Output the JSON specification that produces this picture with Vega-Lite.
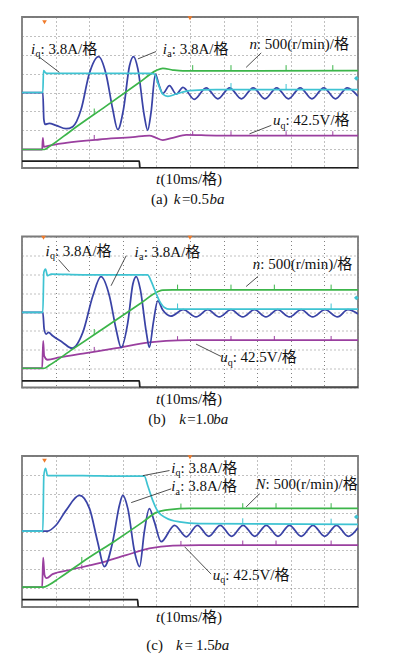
{
"$schema": "https://vega.github.io/schema/vega-lite/v6.json",
"background": "white",
"padding": {"left": 21, "top": 15, "right": 0, "bottom": 0},
"spacing": 68.5,
"bounds": "flush",
"config": {
  "view": {"stroke": "#7a7a7a", "strokeWidth": 1.8},
  "axis": {"labels": false, "ticks": false, "domain": false, "grid": true, "gridColor": "#808080", "gridDash": [1, 3], "gridWidth": 1},
  "axisX": {"tickCount": 10},
  "axisY": {"tickCount": 8}
},
"datasets": {
"tr": [
{"p":"a","s":"bk","x":0,"y":0.36},{"p":"a","s":"bk","x":3.49,"y":0.36},{"p":"a","s":"bk","x":3.51,"y":0},{"p":"a","s":"bk","x":10,"y":0},
{"p":"a","s":"pu","x":0,"y":0.98},{"p":"a","s":"pu","x":0.6,"y":0.98},{"p":"a","s":"pu","x":0.62,"y":1.6},{"p":"a","s":"pu","x":0.65,"y":1.12},{"p":"a","s":"pu","x":0.81,"y":1.19},{"p":"a","s":"pu","x":1.31,"y":1.33},{"p":"a","s":"pu","x":2.3,"y":1.51},{"p":"a","s":"pu","x":3.3,"y":1.64},{"p":"a","s":"pu","x":3.79,"y":1.72},{"p":"a","s":"pu","x":3.99,"y":1.6},{"p":"a","s":"pu","x":4.19,"y":1.48},{"p":"a","s":"pu","x":4.49,"y":1.6},{"p":"a","s":"pu","x":4.89,"y":1.76},{"p":"a","s":"pu","x":5.78,"y":1.72},{"p":"a","s":"pu","x":10,"y":1.72},
{"p":"a","s":"bl","x":0,"y":4.0},{"p":"a","s":"bl","x":0.62,"y":4.0},{"p":"a","s":"bl","x":0.65,"y":2.58},{"p":"a","s":"bl","x":0.69,"y":2.31},{"p":"a","s":"bl","x":0.81,"y":2.36},{"p":"a","s":"bl","x":1.01,"y":2.26},{"p":"a","s":"bl","x":1.31,"y":2.08},{"p":"a","s":"bl","x":1.51,"y":2.19},{"p":"a","s":"bl","x":1.76,"y":3.11},{"p":"a","s":"bl","x":2.0,"y":4.98},{"p":"a","s":"bl","x":2.28,"y":5.9},{"p":"a","s":"bl","x":2.5,"y":4.98},{"p":"a","s":"bl","x":2.7,"y":3.11},{"p":"a","s":"bl","x":2.85,"y":2.04},{"p":"a","s":"bl","x":3.02,"y":3.11},{"p":"a","s":"bl","x":3.2,"y":5.42},{"p":"a","s":"bl","x":3.32,"y":5.9},{"p":"a","s":"bl","x":3.45,"y":5.24},{"p":"a","s":"bl","x":3.64,"y":2.76},{"p":"a","s":"bl","x":3.74,"y":2.0},{"p":"a","s":"bl","x":3.84,"y":2.93},{"p":"a","s":"bl","x":3.97,"y":4.98},{"p":"a","s":"bl","x":4.07,"y":4.44},{"p":"a","s":"bl","x":4.19,"y":3.95},{"p":"a","s":"bl","x":4.39,"y":4.36},{"p":"a","s":"bl","x":4.59,"y":3.91},{"p":"a","s":"bl","x":4.79,"y":4.27},{"p":"a","s":"bl","x":5.13,"y":3.64},{"p":"a","s":"bl","x":5.48,"y":4.25},{"p":"a","s":"bl","x":5.83,"y":3.66},{"p":"a","s":"bl","x":6.18,"y":4.25},{"p":"a","s":"bl","x":6.53,"y":3.66},{"p":"a","s":"bl","x":6.88,"y":4.25},{"p":"a","s":"bl","x":7.23,"y":3.66},{"p":"a","s":"bl","x":7.58,"y":4.25},{"p":"a","s":"bl","x":7.93,"y":3.66},{"p":"a","s":"bl","x":8.28,"y":4.25},{"p":"a","s":"bl","x":8.63,"y":3.66},{"p":"a","s":"bl","x":8.98,"y":4.25},{"p":"a","s":"bl","x":9.33,"y":3.66},{"p":"a","s":"bl","x":9.68,"y":4.25},{"p":"a","s":"bl","x":10,"y":3.8},
{"p":"a","s":"gr","x":0,"y":0.98},{"p":"a","s":"gr","x":0.67,"y":0.98},{"p":"a","s":"gr","x":0.8,"y":1.12},{"p":"a","s":"gr","x":1.5,"y":2.03},{"p":"a","s":"gr","x":2.5,"y":3.28},{"p":"a","s":"gr","x":3.5,"y":4.54},{"p":"a","s":"gr","x":3.99,"y":5.16},{"p":"a","s":"gr","x":4.19,"y":5.28},{"p":"a","s":"gr","x":4.49,"y":5.19},{"p":"a","s":"gr","x":4.79,"y":5.14},{"p":"a","s":"gr","x":10,"y":5.16},
{"p":"a","s":"cy","x":0,"y":4.0},{"p":"a","s":"cy","x":0.62,"y":4.0},{"p":"a","s":"cy","x":0.64,"y":5.16},{"p":"a","s":"cy","x":0.7,"y":5.05},{"p":"a","s":"cy","x":0.76,"y":5.01},{"p":"a","s":"cy","x":3.79,"y":5.01},{"p":"a","s":"cy","x":3.94,"y":4.98},{"p":"a","s":"cy","x":4.04,"y":4.53},{"p":"a","s":"cy","x":4.19,"y":3.91},{"p":"a","s":"cy","x":4.34,"y":3.8},{"p":"a","s":"cy","x":4.59,"y":3.92},{"p":"a","s":"cy","x":4.99,"y":4.1},{"p":"a","s":"cy","x":5.78,"y":4.15},{"p":"a","s":"cy","x":10,"y":4.15},

{"p":"b","s":"bk","x":0,"y":0.35},{"p":"b","s":"bk","x":3.49,"y":0.35},{"p":"b","s":"bk","x":3.51,"y":0},{"p":"b","s":"bk","x":10,"y":0},
{"p":"b","s":"pu","x":0,"y":1.02},{"p":"b","s":"pu","x":0.6,"y":1.02},{"p":"b","s":"pu","x":0.63,"y":2.47},{"p":"b","s":"pu","x":0.66,"y":1.68},{"p":"b","s":"pu","x":0.76,"y":1.47},{"p":"b","s":"pu","x":1.11,"y":1.59},{"p":"b","s":"pu","x":1.81,"y":1.8},{"p":"b","s":"pu","x":2.8,"y":2.08},{"p":"b","s":"pu","x":3.79,"y":2.39},{"p":"b","s":"pu","x":4.29,"y":2.47},{"p":"b","s":"pu","x":4.99,"y":2.51},{"p":"b","s":"pu","x":10,"y":2.51},
{"p":"b","s":"bl","x":0,"y":3.98},{"p":"b","s":"bl","x":0.62,"y":3.98},{"p":"b","s":"bl","x":0.66,"y":3.09},{"p":"b","s":"bl","x":0.72,"y":2.83},{"p":"b","s":"bl","x":0.79,"y":2.92},{"p":"b","s":"bl","x":0.91,"y":2.74},{"p":"b","s":"bl","x":1.21,"y":2.39},{"p":"b","s":"bl","x":1.49,"y":2.08},{"p":"b","s":"bl","x":1.81,"y":2.92},{"p":"b","s":"bl","x":2.11,"y":4.86},{"p":"b","s":"bl","x":2.35,"y":5.87},{"p":"b","s":"bl","x":2.6,"y":4.86},{"p":"b","s":"bl","x":2.8,"y":3.09},{"p":"b","s":"bl","x":2.95,"y":2.12},{"p":"b","s":"bl","x":3.15,"y":3.45},{"p":"b","s":"bl","x":3.3,"y":5.48},{"p":"b","s":"bl","x":3.4,"y":5.87},{"p":"b","s":"bl","x":3.52,"y":5.21},{"p":"b","s":"bl","x":3.7,"y":2.92},{"p":"b","s":"bl","x":3.79,"y":2.12},{"p":"b","s":"bl","x":3.91,"y":3.45},{"p":"b","s":"bl","x":4.04,"y":4.59},{"p":"b","s":"bl","x":4.19,"y":4.1},{"p":"b","s":"bl","x":4.43,"y":3.78},{"p":"b","s":"bl","x":4.8,"y":4.12},{"p":"b","s":"bl","x":5.18,"y":3.74},{"p":"b","s":"bl","x":5.53,"y":4.12},{"p":"b","s":"bl","x":5.87,"y":3.74},{"p":"b","s":"bl","x":6.22,"y":4.12},{"p":"b","s":"bl","x":6.57,"y":3.74},{"p":"b","s":"bl","x":6.92,"y":4.12},{"p":"b","s":"bl","x":7.26,"y":3.74},{"p":"b","s":"bl","x":7.61,"y":4.12},{"p":"b","s":"bl","x":7.96,"y":3.74},{"p":"b","s":"bl","x":8.31,"y":4.12},{"p":"b","s":"bl","x":8.65,"y":3.74},{"p":"b","s":"bl","x":9.02,"y":4.12},{"p":"b","s":"bl","x":9.39,"y":3.74},{"p":"b","s":"bl","x":9.7,"y":4.12},{"p":"b","s":"bl","x":10,"y":3.9},
{"p":"b","s":"gr","x":0,"y":1.02},{"p":"b","s":"gr","x":0.67,"y":1.02},{"p":"b","s":"gr","x":0.8,"y":1.16},{"p":"b","s":"gr","x":1.5,"y":2.02},{"p":"b","s":"gr","x":2.5,"y":3.22},{"p":"b","s":"gr","x":3.5,"y":4.42},{"p":"b","s":"gr","x":4.04,"y":5.07},{"p":"b","s":"gr","x":4.19,"y":5.16},{"p":"b","s":"gr","x":4.49,"y":5.17},{"p":"b","s":"gr","x":10,"y":5.17},
{"p":"b","s":"cy","x":0,"y":3.98},{"p":"b","s":"cy","x":0.62,"y":3.98},{"p":"b","s":"cy","x":0.65,"y":6.1},{"p":"b","s":"cy","x":0.7,"y":6.27},{"p":"b","s":"cy","x":0.76,"y":5.92},{"p":"b","s":"cy","x":0.87,"y":6.01},{"p":"b","s":"cy","x":1.81,"y":5.97},{"p":"b","s":"cy","x":3.74,"y":5.97},{"p":"b","s":"cy","x":3.84,"y":5.65},{"p":"b","s":"cy","x":3.94,"y":5.21},{"p":"b","s":"cy","x":4.09,"y":4.59},{"p":"b","s":"cy","x":4.24,"y":4.24},{"p":"b","s":"cy","x":4.39,"y":4.15},{"p":"b","s":"cy","x":10,"y":4.15},

{"p":"c","s":"bk","x":0,"y":0.39},{"p":"c","s":"bk","x":3.44,"y":0.39},{"p":"c","s":"bk","x":3.46,"y":0},{"p":"c","s":"bk","x":10,"y":0},
{"p":"c","s":"pu","x":0,"y":1.05},{"p":"c","s":"pu","x":0.6,"y":1.05},{"p":"c","s":"pu","x":0.63,"y":2.61},{"p":"c","s":"pu","x":0.67,"y":1.7},{"p":"c","s":"pu","x":0.73,"y":1.53},{"p":"c","s":"pu","x":0.91,"y":1.74},{"p":"c","s":"pu","x":1.41,"y":1.96},{"p":"c","s":"pu","x":2.3,"y":2.32},{"p":"c","s":"pu","x":3.1,"y":2.75},{"p":"c","s":"pu","x":3.79,"y":3.1},{"p":"c","s":"pu","x":4.49,"y":3.25},{"p":"c","s":"pu","x":5.28,"y":3.28},{"p":"c","s":"pu","x":10,"y":3.28},
{"p":"c","s":"bl","x":0,"y":4.02},{"p":"c","s":"bl","x":0.76,"y":4.02},{"p":"c","s":"bl","x":1.01,"y":4.33},{"p":"c","s":"bl","x":1.31,"y":5.12},{"p":"c","s":"bl","x":1.71,"y":5.91},{"p":"c","s":"bl","x":2.01,"y":5.21},{"p":"c","s":"bl","x":2.25,"y":3.46},{"p":"c","s":"bl","x":2.45,"y":2.14},{"p":"c","s":"bl","x":2.7,"y":3.46},{"p":"c","s":"bl","x":2.9,"y":5.39},{"p":"c","s":"bl","x":3.0,"y":5.91},{"p":"c","s":"bl","x":3.15,"y":5.21},{"p":"c","s":"bl","x":3.35,"y":2.93},{"p":"c","s":"bl","x":3.5,"y":2.14},{"p":"c","s":"bl","x":3.64,"y":3.98},{"p":"c","s":"bl","x":3.79,"y":5.21},{"p":"c","s":"bl","x":3.94,"y":4.51},{"p":"c","s":"bl","x":4.14,"y":3.46},{"p":"c","s":"bl","x":4.54,"y":4.33},{"p":"c","s":"bl","x":4.89,"y":3.72},{"p":"c","s":"bl","x":5.22,"y":4.33},{"p":"c","s":"bl","x":5.56,"y":3.74},{"p":"c","s":"bl","x":5.9,"y":4.33},{"p":"c","s":"bl","x":6.24,"y":3.74},{"p":"c","s":"bl","x":6.58,"y":4.33},{"p":"c","s":"bl","x":6.93,"y":3.74},{"p":"c","s":"bl","x":7.27,"y":4.33},{"p":"c","s":"bl","x":7.62,"y":3.74},{"p":"c","s":"bl","x":7.96,"y":4.33},{"p":"c","s":"bl","x":8.31,"y":3.74},{"p":"c","s":"bl","x":8.66,"y":4.33},{"p":"c","s":"bl","x":9.01,"y":3.74},{"p":"c","s":"bl","x":9.36,"y":4.33},{"p":"c","s":"bl","x":9.71,"y":3.74},{"p":"c","s":"bl","x":10,"y":4.2},
{"p":"c","s":"gr","x":0,"y":1.05},{"p":"c","s":"gr","x":0.62,"y":1.05},{"p":"c","s":"gr","x":0.81,"y":1.18},{"p":"c","s":"gr","x":1.11,"y":1.53},{"p":"c","s":"gr","x":1.81,"y":2.4},{"p":"c","s":"gr","x":2.8,"y":3.54},{"p":"c","s":"gr","x":3.6,"y":4.51},{"p":"c","s":"gr","x":3.99,"y":5.0},{"p":"c","s":"gr","x":4.39,"y":5.16},{"p":"c","s":"gr","x":4.99,"y":5.22},{"p":"c","s":"gr","x":10,"y":5.22},
{"p":"c","s":"cy","x":0,"y":4.02},{"p":"c","s":"cy","x":0.62,"y":4.02},{"p":"c","s":"cy","x":0.65,"y":6.96},{"p":"c","s":"cy","x":0.7,"y":7.35},{"p":"c","s":"cy","x":0.76,"y":6.96},{"p":"c","s":"cy","x":1.81,"y":6.96},{"p":"c","s":"cy","x":2.8,"y":6.93},{"p":"c","s":"cy","x":3.64,"y":6.93},{"p":"c","s":"cy","x":3.74,"y":6.44},{"p":"c","s":"cy","x":3.89,"y":5.65},{"p":"c","s":"cy","x":4.04,"y":5.07},{"p":"c","s":"cy","x":4.29,"y":4.72},{"p":"c","s":"cy","x":4.69,"y":4.51},{"p":"c","s":"cy","x":5.28,"y":4.42},{"p":"c","s":"cy","x":10,"y":4.38}
],
"sp": [
{"p":"a","s":"gr","x":2.15,"y":2.84,"y2":3.15},{"p":"a","s":"gr","x":5.08,"y":5.16,"y2":5.45},{"p":"a","s":"gr","x":6.22,"y":5.16,"y2":5.45},{"p":"a","s":"gr","x":7.86,"y":5.16,"y2":5.45},{"p":"a","s":"gr","x":9.25,"y":5.16,"y2":5.45},
{"p":"a","s":"pu","x":2.15,"y":1.5,"y2":1.75},{"p":"a","s":"pu","x":5.08,"y":1.72,"y2":1.95},{"p":"a","s":"pu","x":6.22,"y":1.72,"y2":1.95},{"p":"a","s":"pu","x":7.86,"y":1.72,"y2":1.95},{"p":"a","s":"pu","x":9.25,"y":1.72,"y2":1.95},
{"p":"a","s":"cy","x":6.22,"y":4.15,"y2":4.5},{"p":"a","s":"cy","x":7.86,"y":4.15,"y2":4.45},
{"p":"b","s":"gr","x":2.15,"y":2.8,"y2":3.1},{"p":"b","s":"gr","x":4.63,"y":5.17,"y2":5.45},{"p":"b","s":"gr","x":6.22,"y":5.17,"y2":5.45},{"p":"b","s":"gr","x":7.51,"y":5.17,"y2":5.45},{"p":"b","s":"gr","x":9.2,"y":5.17,"y2":5.45},
{"p":"b","s":"pu","x":2.15,"y":1.92,"y2":2.15},{"p":"b","s":"pu","x":4.63,"y":2.5,"y2":2.72},{"p":"b","s":"pu","x":6.22,"y":2.51,"y2":2.73},{"p":"b","s":"pu","x":7.51,"y":2.51,"y2":2.73},{"p":"b","s":"pu","x":9.2,"y":2.51,"y2":2.73},
{"p":"b","s":"cy","x":4.63,"y":4.15,"y2":4.45},{"p":"b","s":"cy","x":9.2,"y":4.15,"y2":4.45},
{"p":"c","s":"gr","x":1.78,"y":2.36,"y2":2.65},{"p":"c","s":"gr","x":4.73,"y":5.2,"y2":5.48},{"p":"c","s":"gr","x":6.57,"y":5.22,"y2":5.5},{"p":"c","s":"gr","x":7.56,"y":5.22,"y2":5.5},{"p":"c","s":"gr","x":9.2,"y":5.22,"y2":5.5},
{"p":"c","s":"pu","x":1.78,"y":2.0,"y2":2.25},{"p":"c","s":"pu","x":4.73,"y":3.26,"y2":3.5},{"p":"c","s":"pu","x":6.57,"y":3.28,"y2":3.52},{"p":"c","s":"pu","x":7.56,"y":3.28,"y2":3.52},{"p":"c","s":"pu","x":9.2,"y":3.28,"y2":3.52},
{"p":"c","s":"cy","x":6.57,"y":4.4,"y2":4.7},{"p":"c","s":"cy","x":9.2,"y":4.38,"y2":4.68}
],
"ld": [
{"p":"a","x":0.52,"y":5.87,"x2":1.11,"y2":5.07},{"p":"a","x":3.45,"y":5.78,"x2":3.99,"y2":6.17},{"p":"a","x":6.67,"y":5.33,"x2":7.12,"y2":6.1},{"p":"a","x":6.77,"y":1.81,"x2":7.42,"y2":2.26},
{"p":"b","x":1.09,"y":6.77,"x2":1.41,"y2":6.13},{"p":"b","x":3.1,"y":6.98,"x2":2.65,"y2":5.39},{"p":"b","x":6.67,"y":5.35,"x2":7.02,"y2":5.88},{"p":"b","x":5.18,"y":2.3,"x2":5.93,"y2":1.64},
{"p":"c","x":3.6,"y":6.96,"x2":4.39,"y2":7.23},{"p":"c","x":3.25,"y":5.53,"x2":4.44,"y2":6.26},{"p":"c","x":6.67,"y":5.3,"x2":7.07,"y2":6.0},{"p":"c","x":4.84,"y":3.19,"x2":5.63,"y2":1.74}
],
"mk": [
{"p":"a","k":"o","x":0.67,"y":7.72},{"p":"a","k":"o","x":5.0,"y":7.93},{"p":"a","k":"c","x":9.95,"y":4.75},
{"p":"b","k":"o","x":0.64,"y":7.93},{"p":"b","k":"o","x":5.0,"y":7.93},{"p":"b","k":"c","x":9.95,"y":4.75},
{"p":"c","k":"o","x":0.67,"y":7.75},{"p":"c","k":"o","x":5.0,"y":7.93},{"p":"c","k":"c","x":9.95,"y":4.77}
],
"tx": [
{"p":"a","x":0.27,"y":6.04,"t":"i","it":1,"sz":15},{"p":"a","x":0.4,"y":5.86,"t":"q","it":0,"sz":10},{"p":"a","x":0.55,"y":6.04,"t":": 3.8A/格","it":0,"sz":15},
{"p":"a","x":4.19,"y":6.04,"t":"i","it":1,"sz":15},{"p":"a","x":4.32,"y":5.86,"t":"a","it":0,"sz":10},{"p":"a","x":4.46,"y":6.04,"t":": 3.8A/格","it":0,"sz":15},
{"p":"a","x":6.77,"y":6.33,"t":"n","it":1,"sz":15},{"p":"a","x":6.99,"y":6.33,"t":": 500(r/min)/格","it":0,"sz":15},
{"p":"a","x":7.47,"y":2.26,"t":"u","it":1,"sz":15},{"p":"a","x":7.69,"y":2.08,"t":"q","it":0,"sz":10},{"p":"a","x":7.84,"y":2.26,"t":": 42.5V/格","it":0,"sz":15},
{"p":"a","x":3.99,"y":-0.85,"t":"t","it":1,"sz":15},{"p":"a","x":4.12,"y":-0.85,"t":"(10ms/格)","it":0,"sz":15},
{"p":"a","x":3.84,"y":-1.93,"t":"(a)","it":0,"sz":15},{"p":"a","x":4.52,"y":-1.93,"t":"k","it":1,"sz":15},{"p":"a","x":4.76,"y":-1.93,"t":"=","it":0,"sz":15},{"p":"a","x":5.01,"y":-1.93,"t":"0.5","it":0,"sz":15},{"p":"a","x":5.58,"y":-1.93,"t":"ba","it":1,"sz":15},

{"p":"b","x":0.7,"y":6.98,"t":"i","it":1,"sz":15},{"p":"b","x":0.83,"y":6.8,"t":"q","it":0,"sz":10},{"p":"b","x":0.98,"y":6.98,"t":": 3.8A/格","it":0,"sz":15},
{"p":"b","x":3.35,"y":6.94,"t":"i","it":1,"sz":15},{"p":"b","x":3.48,"y":6.76,"t":"a","it":0,"sz":10},{"p":"b","x":3.62,"y":6.94,"t":": 3.8A/格","it":0,"sz":15},
{"p":"b","x":6.87,"y":6.27,"t":"n","it":1,"sz":15},{"p":"b","x":7.09,"y":6.27,"t":": 500(r/min)/格","it":0,"sz":15},
{"p":"b","x":5.9,"y":1.33,"t":"u","it":1,"sz":15},{"p":"b","x":6.12,"y":1.15,"t":"q","it":0,"sz":10},{"p":"b","x":6.27,"y":1.33,"t":": 42.5V/格","it":0,"sz":15},
{"p":"b","x":3.99,"y":-0.85,"t":"t","it":1,"sz":15},{"p":"b","x":4.12,"y":-0.85,"t":"(10ms/格)","it":0,"sz":15},
{"p":"b","x":3.76,"y":-1.91,"t":"(b)","it":0,"sz":15},{"p":"b","x":4.68,"y":-1.91,"t":"k","it":1,"sz":15},{"p":"b","x":4.92,"y":-1.91,"t":"=","it":0,"sz":15},{"p":"b","x":5.16,"y":-1.91,"t":"1.0","it":0,"sz":15},{"p":"b","x":5.69,"y":-1.91,"t":"ba","it":1,"sz":15},

{"p":"c","x":4.44,"y":7.1,"t":"i","it":1,"sz":15},{"p":"c","x":4.57,"y":6.92,"t":"q","it":0,"sz":10},{"p":"c","x":4.72,"y":7.1,"t":": 3.8A/格","it":0,"sz":15},
{"p":"c","x":4.44,"y":6.12,"t":"i","it":1,"sz":15},{"p":"c","x":4.57,"y":5.94,"t":"a","it":0,"sz":10},{"p":"c","x":4.71,"y":6.12,"t":": 3.8A/格","it":0,"sz":15},
{"p":"c","x":6.95,"y":6.26,"t":"N","it":1,"sz":15},{"p":"c","x":7.25,"y":6.26,"t":": 500(r/min)/格","it":0,"sz":15},
{"p":"c","x":5.68,"y":1.44,"t":"u","it":1,"sz":15},{"p":"c","x":5.9,"y":1.26,"t":"q","it":0,"sz":10},{"p":"c","x":6.05,"y":1.44,"t":": 42.5V/格","it":0,"sz":15},
{"p":"c","x":3.99,"y":-0.82,"t":"t","it":1,"sz":15},{"p":"c","x":4.12,"y":-0.82,"t":"(10ms/格)","it":0,"sz":15},
{"p":"c","x":3.7,"y":-2.28,"t":"(c)","it":0,"sz":15},{"p":"c","x":4.58,"y":-2.28,"t":"k","it":1,"sz":15},{"p":"c","x":4.84,"y":-2.28,"t":"=","it":0,"sz":15},{"p":"c","x":5.18,"y":-2.28,"t":"1.5","it":0,"sz":15},{"p":"c","x":5.72,"y":-2.28,"t":"ba","it":1,"sz":15}
]
},
"vconcat": [
{
"width": 336, "height": 151,
"layer": [
{"data": {"name": "tr"}, "transform": [{"filter": "datum.p === 'a'"}],
 "mark": {"type": "line", "interpolate": "monotone", "clip": true},
 "encoding": {
  "x": {"field": "x", "type": "quantitative", "scale": {"domain": [0, 10], "nice": false}, "title": null},
  "y": {"field": "y", "type": "quantitative", "scale": {"domain": [0, 8], "nice": false}, "title": null},
  "color": {"field": "s", "type": "nominal", "scale": {"domain": ["bk", "pu", "bl", "gr", "cy"], "range": ["#1e1e1e", "#9a3f9f", "#3a43a6", "#3cb54a", "#3ec3d2"]}, "legend": null},
  "strokeWidth": {"field": "s", "type": "nominal", "scale": {"domain": ["bk", "pu", "bl", "gr", "cy"], "range": [1.8, 1.7, 2.3, 1.7, 1.7]}, "legend": null}
 }},
{"data": {"name": "sp"}, "transform": [{"filter": "datum.p === 'a'"}],
 "mark": {"type": "rule", "strokeWidth": 1},
 "encoding": {"x": {"field": "x", "type": "quantitative", "title": null}, "y": {"field": "y", "type": "quantitative", "title": null}, "y2": {"field": "y2"},
  "color": {"field": "s", "type": "nominal", "legend": null}}},
{"data": {"name": "ld"}, "transform": [{"filter": "datum.p === 'a'"}],
 "mark": {"type": "rule", "strokeWidth": 0.8, "color": "#222"},
 "encoding": {"x": {"field": "x", "type": "quantitative", "title": null}, "y": {"field": "y", "type": "quantitative", "title": null}, "x2": {"field": "x2"}, "y2": {"field": "y2"}}},
{"data": {"name": "tx"}, "transform": [{"filter": "datum.p === 'a' && datum.it === 0"}],
 "mark": {"type": "text", "align": "left", "baseline": "alphabetic", "font": "Liberation Serif, Noto Sans CJK SC", "color": "#111"},
 "encoding": {"x": {"field": "x", "type": "quantitative", "title": null}, "y": {"field": "y", "type": "quantitative", "title": null}, "text": {"field": "t"}, "size": {"field": "sz", "type": "quantitative", "scale": null}}},
{"data": {"name": "tx"}, "transform": [{"filter": "datum.p === 'a' && datum.it === 1"}],
 "mark": {"type": "text", "align": "left", "baseline": "alphabetic", "font": "Liberation Serif, Noto Sans CJK SC", "fontStyle": "italic", "color": "#111"},
 "encoding": {"x": {"field": "x", "type": "quantitative", "title": null}, "y": {"field": "y", "type": "quantitative", "title": null}, "text": {"field": "t"}, "size": {"field": "sz", "type": "quantitative", "scale": null}}},
{"data": {"name": "mk"}, "transform": [{"filter": "datum.p === 'a' && datum.k === 'o'"}],
 "mark": {"type": "point", "shape": "triangle-down", "filled": true, "color": "#f07a2a", "size": 22, "opacity": 1},
 "encoding": {"x": {"field": "x", "type": "quantitative", "title": null}, "y": {"field": "y", "type": "quantitative", "title": null}}},
{"data": {"name": "mk"}, "transform": [{"filter": "datum.p === 'a' && datum.k === 'c'"}],
 "mark": {"type": "point", "shape": "diamond", "filled": true, "color": "#3ec3d2", "size": 22, "opacity": 1},
 "encoding": {"x": {"field": "x", "type": "quantitative", "title": null}, "y": {"field": "y", "type": "quantitative", "title": null}}}
]
},
{
"width": 336, "height": 151,
"layer": [
{"data": {"name": "tr"}, "transform": [{"filter": "datum.p === 'b'"}],
 "mark": {"type": "line", "interpolate": "monotone", "clip": true},
 "encoding": {
  "x": {"field": "x", "type": "quantitative", "scale": {"domain": [0, 10], "nice": false}, "title": null},
  "y": {"field": "y", "type": "quantitative", "scale": {"domain": [0, 8], "nice": false}, "title": null},
  "color": {"field": "s", "type": "nominal", "scale": {"domain": ["bk", "pu", "bl", "gr", "cy"], "range": ["#1e1e1e", "#9a3f9f", "#3a43a6", "#3cb54a", "#3ec3d2"]}, "legend": null},
  "strokeWidth": {"field": "s", "type": "nominal", "scale": {"domain": ["bk", "pu", "bl", "gr", "cy"], "range": [1.8, 1.7, 2.3, 1.7, 1.7]}, "legend": null}
 }},
{"data": {"name": "sp"}, "transform": [{"filter": "datum.p === 'b'"}],
 "mark": {"type": "rule", "strokeWidth": 1},
 "encoding": {"x": {"field": "x", "type": "quantitative", "title": null}, "y": {"field": "y", "type": "quantitative", "title": null}, "y2": {"field": "y2"},
  "color": {"field": "s", "type": "nominal", "legend": null}}},
{"data": {"name": "ld"}, "transform": [{"filter": "datum.p === 'b'"}],
 "mark": {"type": "rule", "strokeWidth": 0.8, "color": "#222"},
 "encoding": {"x": {"field": "x", "type": "quantitative", "title": null}, "y": {"field": "y", "type": "quantitative", "title": null}, "x2": {"field": "x2"}, "y2": {"field": "y2"}}},
{"data": {"name": "tx"}, "transform": [{"filter": "datum.p === 'b' && datum.it === 0"}],
 "mark": {"type": "text", "align": "left", "baseline": "alphabetic", "font": "Liberation Serif, Noto Sans CJK SC", "color": "#111"},
 "encoding": {"x": {"field": "x", "type": "quantitative", "title": null}, "y": {"field": "y", "type": "quantitative", "title": null}, "text": {"field": "t"}, "size": {"field": "sz", "type": "quantitative", "scale": null}}},
{"data": {"name": "tx"}, "transform": [{"filter": "datum.p === 'b' && datum.it === 1"}],
 "mark": {"type": "text", "align": "left", "baseline": "alphabetic", "font": "Liberation Serif, Noto Sans CJK SC", "fontStyle": "italic", "color": "#111"},
 "encoding": {"x": {"field": "x", "type": "quantitative", "title": null}, "y": {"field": "y", "type": "quantitative", "title": null}, "text": {"field": "t"}, "size": {"field": "sz", "type": "quantitative", "scale": null}}},
{"data": {"name": "mk"}, "transform": [{"filter": "datum.p === 'b' && datum.k === 'o'"}],
 "mark": {"type": "point", "shape": "triangle-down", "filled": true, "color": "#f07a2a", "size": 22, "opacity": 1},
 "encoding": {"x": {"field": "x", "type": "quantitative", "title": null}, "y": {"field": "y", "type": "quantitative", "title": null}}},
{"data": {"name": "mk"}, "transform": [{"filter": "datum.p === 'b' && datum.k === 'c'"}],
 "mark": {"type": "point", "shape": "diamond", "filled": true, "color": "#3ec3d2", "size": 22, "opacity": 1},
 "encoding": {"x": {"field": "x", "type": "quantitative", "title": null}, "y": {"field": "y", "type": "quantitative", "title": null}}}
]
},
{
"width": 336, "height": 151,
"layer": [
{"data": {"name": "tr"}, "transform": [{"filter": "datum.p === 'c'"}],
 "mark": {"type": "line", "interpolate": "monotone", "clip": true},
 "encoding": {
  "x": {"field": "x", "type": "quantitative", "scale": {"domain": [0, 10], "nice": false}, "title": null},
  "y": {"field": "y", "type": "quantitative", "scale": {"domain": [0, 8], "nice": false}, "title": null},
  "color": {"field": "s", "type": "nominal", "scale": {"domain": ["bk", "pu", "bl", "gr", "cy"], "range": ["#1e1e1e", "#9a3f9f", "#3a43a6", "#3cb54a", "#3ec3d2"]}, "legend": null},
  "strokeWidth": {"field": "s", "type": "nominal", "scale": {"domain": ["bk", "pu", "bl", "gr", "cy"], "range": [1.8, 1.7, 2.3, 1.7, 1.7]}, "legend": null}
 }},
{"data": {"name": "sp"}, "transform": [{"filter": "datum.p === 'c'"}],
 "mark": {"type": "rule", "strokeWidth": 1},
 "encoding": {"x": {"field": "x", "type": "quantitative", "title": null}, "y": {"field": "y", "type": "quantitative", "title": null}, "y2": {"field": "y2"},
  "color": {"field": "s", "type": "nominal", "legend": null}}},
{"data": {"name": "ld"}, "transform": [{"filter": "datum.p === 'c'"}],
 "mark": {"type": "rule", "strokeWidth": 0.8, "color": "#222"},
 "encoding": {"x": {"field": "x", "type": "quantitative", "title": null}, "y": {"field": "y", "type": "quantitative", "title": null}, "x2": {"field": "x2"}, "y2": {"field": "y2"}}},
{"data": {"name": "tx"}, "transform": [{"filter": "datum.p === 'c' && datum.it === 0"}],
 "mark": {"type": "text", "align": "left", "baseline": "alphabetic", "font": "Liberation Serif, Noto Sans CJK SC", "color": "#111"},
 "encoding": {"x": {"field": "x", "type": "quantitative", "title": null}, "y": {"field": "y", "type": "quantitative", "title": null}, "text": {"field": "t"}, "size": {"field": "sz", "type": "quantitative", "scale": null}}},
{"data": {"name": "tx"}, "transform": [{"filter": "datum.p === 'c' && datum.it === 1"}],
 "mark": {"type": "text", "align": "left", "baseline": "alphabetic", "font": "Liberation Serif, Noto Sans CJK SC", "fontStyle": "italic", "color": "#111"},
 "encoding": {"x": {"field": "x", "type": "quantitative", "title": null}, "y": {"field": "y", "type": "quantitative", "title": null}, "text": {"field": "t"}, "size": {"field": "sz", "type": "quantitative", "scale": null}}},
{"data": {"name": "mk"}, "transform": [{"filter": "datum.p === 'c' && datum.k === 'o'"}],
 "mark": {"type": "point", "shape": "triangle-down", "filled": true, "color": "#f07a2a", "size": 22, "opacity": 1},
 "encoding": {"x": {"field": "x", "type": "quantitative", "title": null}, "y": {"field": "y", "type": "quantitative", "title": null}}},
{"data": {"name": "mk"}, "transform": [{"filter": "datum.p === 'c' && datum.k === 'c'"}],
 "mark": {"type": "point", "shape": "diamond", "filled": true, "color": "#3ec3d2", "size": 22, "opacity": 1},
 "encoding": {"x": {"field": "x", "type": "quantitative", "title": null}, "y": {"field": "y", "type": "quantitative", "title": null}}}
]
}
]
}
